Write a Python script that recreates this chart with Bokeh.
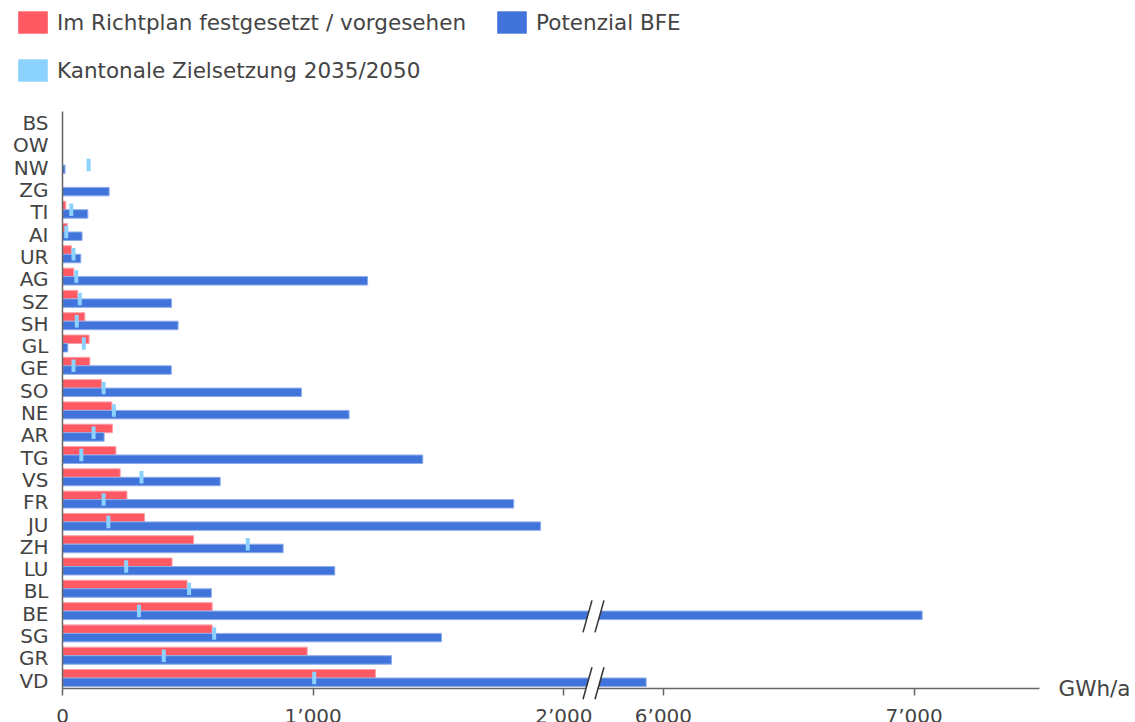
from bokeh.plotting import figure
from bokeh.models import (Range1d, FixedTicker, Legend, LegendItem, Label, Arrow,
                          PolyAnnotation, ColumnDataSource)
from bokeh.embed import file_html
from bokeh.resources import INLINE

# ---------------- data ----------------
cantons = ["BS", "OW", "NW", "ZG", "TI", "AI", "UR", "AG", "SZ", "SH", "GL", "GE", "SO",
           "NE", "AR", "TG", "VS", "FR", "JU", "ZH", "LU", "BL", "BE", "SG", "GR", "VD"]
richtplan = [0, 0, 0, 0, 13, 19, 36, 45, 61, 89, 106, 109, 156,
             197, 199, 213, 230, 257, 327, 523, 437, 497, 597, 597, 976, 1248]
potenzial = [0, 0, 10, 186, 101, 78, 73, 1217, 435, 461, 21, 434, 953,
             1143, 166, 1437, 629, 1800, 1907, 880, 1086, 594, 7032, 1512, 1312, 5931]
zielsetzung = [None, None, 104, None, 35, 15, 44, 55, 69, 57, 85, 44, 164,
               205, 124, 75, 315, 164, 183, 739, 254, 505, 305, 605, 404, 1004]
x_ticks = [0, 1000, 2000, 6000, 7000]
x_tick_labels = ["0", "1’000", "2’000", "6’000", "7’000"]
series_names = ["Im Richtplan festgesetzt / vorgesehen", "Potenzial BFE",
                "Kantonale Zielsetzung 2035/2050"]
unit_label = "GWh/a"

# broken axis: values above BREAK_LOW are shifted left by BREAK_GAP
BREAK_LOW = 2118
BREAK_GAP = 3603
X_END = 3897


def tx(v):
    return v if v <= BREAK_LOW else v - BREAK_GAP


RED = "#FF5A64"
BLUE = "#4174DB"
LIGHT = "#8CD2FF"
TEXT = "#444444"
AXIS = "#666666"
FONT = "DejaVu Sans"

W, H = 1135, 722
X0_PX = 62            # pixel of value 0
PX_X = 1000 / 250.7   # data units per pixel (x)
Y0_PX = 677.5         # pixel of last category
PX_Y = 1 / 22.3       # data units per pixel (y)

n = len(cantons)
ypos = [n - 1 - i for i in range(n)]
BAR_H = 0.38
AXIS_Y = -10.5 * PX_Y
Y_TOP = (Y0_PX - 111) * PX_Y

red_src = ColumnDataSource(dict(
    y=[y + BAR_H / 2 for y, v in zip(ypos, richtplan) if v > 0],
    right=[tx(v) for v in richtplan if v > 0]))
blue_src = ColumnDataSource(dict(
    y=[y - BAR_H / 2 for y, v in zip(ypos, potenzial) if v > 0],
    right=[tx(v) for v in potenzial if v > 0]))
ziel_src = ColumnDataSource(dict(
    y=[y for y, v in zip(ypos, zielsetzung) if v is not None],
    x=[tx(v) for v in zielsetzung if v is not None]))

p = figure(width=W, height=H, output_backend="svg", toolbar_location=None,
           x_range=Range1d(-X0_PX * PX_X, (W - X0_PX) * PX_X),
           y_range=Range1d(-(H - Y0_PX) * PX_Y, Y0_PX * PX_Y),
           min_border_left=0, min_border_right=0, min_border_top=0,
           min_border_bottom=0)
p.outline_line_color = None
p.xgrid.visible = False
p.ygrid.visible = False
p.background_fill_color = "white"
p.border_fill_color = "white"

p.hbar(y="y", left=0, right="right", height=BAR_H, source=red_src,
       fill_color=RED, line_color="#FF9EA4", line_width=1)
p.hbar(y="y", left=0, right="right", height=BAR_H, source=blue_src,
       fill_color=BLUE, line_color="#8EABEA", line_width=1)
p.rect(x="x", y="y", width=4, width_units="screen", height=0.56, source=ziel_src,
       fill_color=LIGHT, line_color=None)

# legend-only renderers (NaN data: nothing drawn in the plot itself)
nan = float("nan")
lr = p.rect(x=[nan], y=[nan], width=1, height=1, fill_color=RED, line_color=None)
lb = p.rect(x=[nan], y=[nan], width=1, height=1, fill_color=BLUE, line_color=None)
ll = p.rect(x=[nan], y=[nan], width=1, height=1, fill_color=LIGHT, line_color=None)

legend_style = dict(orientation="horizontal", glyph_width=37, glyph_height=28,
                    label_standoff=6, spacing=27, padding=0, margin=0,
                    border_line_color=None, background_fill_alpha=0,
                    label_text_font=FONT, label_text_font_size="21.5px",
                    label_text_color=TEXT)
legend1 = Legend(items=[LegendItem(label=series_names[0], renderers=[lr]),
                        LegendItem(label=series_names[1], renderers=[lb])],
                 location=(14, 686), **legend_style)
legend2 = Legend(items=[LegendItem(label=series_names[2], renderers=[ll])],
                 location=(14, 638), **legend_style)
p.add_layout(legend1, "center")
p.add_layout(legend2, "center")

# axes
xa = p.xaxis[0]
xa.fixed_location = AXIS_Y
xa.bounds = (0, X_END)
xa.ticker = FixedTicker(ticks=[tx(v) for v in x_ticks])
xa.major_label_overrides = {tx(v): lab for v, lab in zip(x_ticks, x_tick_labels)}
xa.axis_line_color = AXIS
xa.axis_line_width = 1.5
xa.major_tick_line_color = AXIS
xa.major_tick_line_width = 1.5
xa.major_tick_out = 7
xa.major_tick_in = 0
xa.minor_tick_line_color = None
xa.major_label_standoff = 8
xa.major_label_text_font = FONT
xa.major_label_text_font_size = "20px"
xa.major_label_text_color = TEXT

ya = p.yaxis[0]
ya.fixed_location = 0
ya.bounds = (AXIS_Y, Y_TOP)
ya.ticker = FixedTicker(ticks=[y - 0.12 for y in ypos])
ya.major_label_overrides = {y - 0.12: c for y, c in zip(ypos, cantons)}
ya.axis_line_color = AXIS
ya.axis_line_width = 1.5
ya.major_tick_out = 0
ya.major_tick_in = 0
ya.minor_tick_line_color = None
ya.major_label_standoff = 14
ya.major_label_text_font = FONT
ya.major_label_text_font_size = "20px"
ya.major_label_text_color = TEXT

# break marks on bars that exceed the break
for y, v in zip(ypos, potenzial):
    if v > BREAK_LOW:
        yc = y - BAR_H / 2 - 1.0 * PX_Y
        x0 = BREAK_LOW
        pts = [(-10.5, -16), (-1.5, 16), (10.5, 16), (1.5, -16)]
        p.add_layout(PolyAnnotation(
            xs=[x0 + dx * PX_X for dx, dy in pts], ys=[yc + dy * PX_Y for dx, dy in pts],
            fill_color="white", fill_alpha=1, line_color=None))
        for a, b in [((-10.5, -16), (-1.5, 16)), ((1.5, -16), (10.5, 16))]:
            p.add_layout(Arrow(end=None, x_start=x0 + a[0] * PX_X, y_start=yc + a[1] * PX_Y,
                               x_end=x0 + b[0] * PX_X, y_end=yc + b[1] * PX_Y,
                               line_color="#333333", line_width=1.5))

p.add_layout(Label(x=X_END, y=AXIS_Y, x_offset=19, text=unit_label,
                   text_align="left", text_baseline="middle",
                   text_font=FONT, text_font_size="21.5px", text_color=TEXT))

open("out.html", "w").write(file_html(p, INLINE))
